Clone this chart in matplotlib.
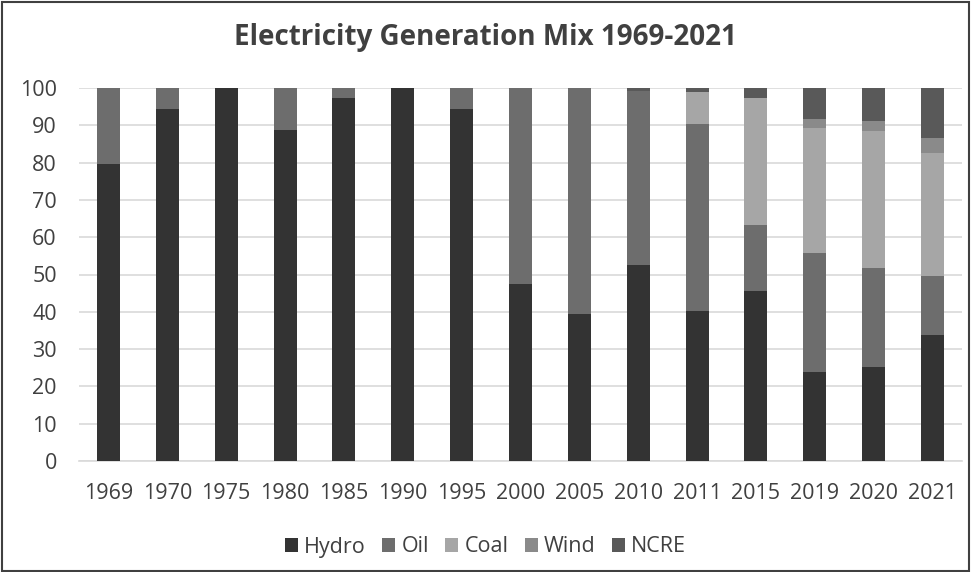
import numpy as np
import matplotlib
matplotlib.use("Agg")
import matplotlib.pyplot as plt
from matplotlib.patches import Rectangle

years = ["1969", "1970", "1975", "1980", "1985", "1990", "1995", "2000",
         "2005", "2010", "2011", "2015", "2019", "2020", "2021"]

# share of generation, percent
hydro = [79.5, 94.3, 100.0, 88.7, 97.4, 100.0, 94.5, 47.5, 39.5, 52.5, 40.3, 45.7, 23.9, 25.1, 33.8]
oil   = [20.5, 5.7, 0.0, 11.3, 2.6, 0.0, 5.5, 52.5, 60.5, 46.8, 50.0, 17.6, 31.8, 26.6, 15.9]
coal  = [0, 0, 0, 0, 0, 0, 0, 0, 0, 0, 8.6, 33.9, 33.7, 36.8, 33.0]
wind  = [0, 0, 0, 0, 0, 0, 0, 0, 0, 0, 0.0, 0.0, 2.2, 2.7, 4.0]
ncre  = [0, 0, 0, 0, 0, 0, 0, 0, 0, 0.7, 1.1, 2.8, 8.4, 8.8, 13.3]

series = [("Hydro", hydro, "#333333"),
          ("Oil", oil, "#6d6d6d"),
          ("Coal", coal, "#a6a6a6"),
          ("Wind", wind, "#8a8a8a"),
          ("NCRE", ncre, "#595959")]

plt.rcParams['font.family'] = ['Open Sans', 'DejaVu Sans']

fig = plt.figure(figsize=(9.71, 5.72), dpi=100)
ax = fig.add_axes([79 / 971, 1 - 461 / 572, (962 - 79) / 971, (461 - 88) / 572])

x = np.arange(len(years))
bottom = np.zeros(len(years))
for name, vals, col in series:
    vals = np.array(vals, dtype=float)
    ax.bar(x, vals, 0.39, bottom=bottom, color=col, label=name, zorder=3)
    bottom += vals

ax.set_ylim(0, 100)
ax.set_xlim(-0.5, len(years) - 0.5)
ax.set_yticks(range(0, 101, 10))
ax.set_xticks(x)
ax.set_xticklabels(years)
ax.grid(axis='y', color='#d9d9d9', lw=1.2, zorder=0)
for s in ['top', 'right', 'left']:
    ax.spines[s].set_visible(False)
ax.spines['bottom'].set_color('#d9d9d9')
ax.spines['bottom'].set_linewidth(1.2)
ax.tick_params(length=0, labelsize=15.5, colors='#404040')
ax.tick_params(axis='x', pad=16)
ax.tick_params(axis='y', pad=16)

fig.text(0.5, 1 - 38 / 572, "Electricity Generation Mix 1969-2021", ha='center', va='center',
         fontsize=20, fontweight='bold', color='#404040')

fig.legend(loc='center', bbox_to_anchor=(0.5, 1 - 547 / 572), ncol=5, frameon=False,
           fontsize=15.5, handlelength=0.6, handleheight=0.6, handletextpad=0.3,
           columnspacing=0.75, labelcolor='#404040')

# outer frame
fig.patches.append(Rectangle((0.002, 0.002), 0.996, 0.994, transform=fig.transFigure,
                             fill=False, edgecolor='#404040', lw=1.5))

fig.savefig("out.png", dpi=100)
